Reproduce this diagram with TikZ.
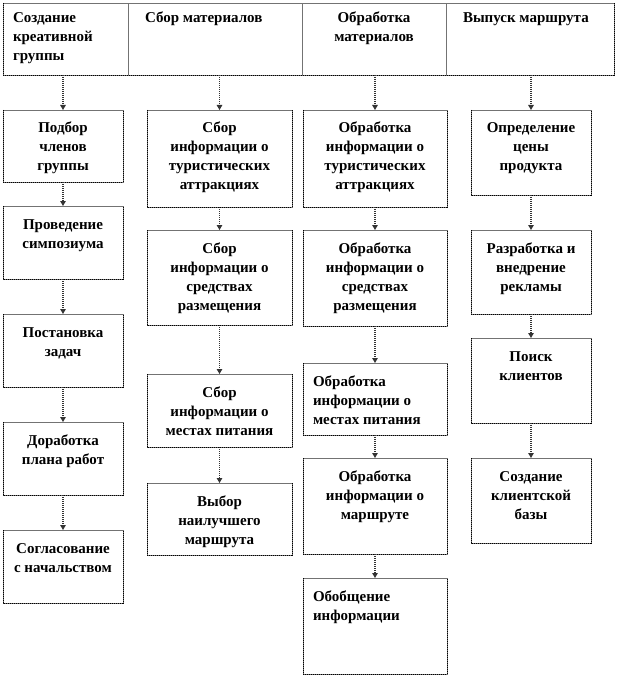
\documentclass[tikz,border=0pt]{standalone}
\usepackage{fontspec}
\setmainfont{Liberation Serif}
\usetikzlibrary{arrows.meta}
\newcommand\tb[4]{\parbox[c][#2pt][t]{#1pt}{#3\rule{0pt}{23pt}#4}}
\newcommand\hb[4]{\parbox[c][#2pt][t]{#1pt}{#3\rule{0pt}{20pt}#4}}
\newcommand\lft[1]{\raggedright\leftskip=#1pt }
\tikzset{
  x=1pt, y=-1pt,
  box/.style={draw=black!55, line width=0.7pt, anchor=north west, inner sep=0pt, outer sep=0pt,
    font=\fontsize{15}{19}\selectfont\bfseries},
  dotedge/.style={draw=black, line width=0.9pt, dash pattern=on 1pt off 1pt},
  arr/.style={draw=black!80, line width=1.1pt, dash pattern=on 1pt off 1pt,
    -{Triangle[width=5.5pt,length=5pt]}, shorten >=0pt},
}
\begin{document}
\begin{tikzpicture}
\useasboundingbox (0,0) rectangle (618,687);
% header cells
\node[box] (h1) at (3,3) {\hb{125}{72}{\lft{10}}{Создание\\креативной\\группы}};
\node[box] (h2) at (128,3) {\hb{174}{72}{\lft{17}}{Сбор материалов}};
\node[box] (h3) at (302,3) {\hb{144}{72}{\centering}{Обработка\\материалов}};
\node[box] (h4) at (446,3) {\hb{168}{72}{\lft{17}}{Выпуск маршрута}};
\draw[dotedge] (h1.north west) -- (h1.south west) -- (h4.south east) -- (h4.north east);
% column 1
\node[box] (a1) at (3,110) {\tb{120}{72}{\centering}{Подбор\\членов\\группы}};
\node[box] (a2) at (3,206) {\tb{120}{73}{\centering}{Проведение\\симпозиума}};
\node[box] (a3) at (3,314) {\tb{120}{73}{\centering}{Постановка\\задач}};
\node[box] (a4) at (3,422) {\tb{120}{73}{\centering}{Доработка\\плана работ}};
\node[box] (a5) at (3,530) {\tb{120}{73}{\centering}{Согласование\\с начальством}};
% column 2
\node[box] (b1) at (147,110) {\tb{145}{97}{\centering}{Сбор\\информации о\\туристических\\аттракциях}};
\node[box] (b2) at (147,230) {\tb{145}{95}{\centering}{Сбор\\информации о\\средствах\\размещения}};
\node[box] (b3) at (147,374) {\tb{145}{73}{\centering}{Сбор\\информации о\\местах питания}};
\node[box] (b4) at (147,483) {\tb{145}{72}{\centering}{Выбор\\наилучшего\\маршрута}};
% column 3
\node[box] (c1) at (303,110) {\tb{144}{97}{\centering}{Обработка\\информации о\\туристических\\аттракциях}};
\node[box] (c2) at (303,230) {\tb{144}{96}{\centering}{Обработка\\информации о\\средствах\\размещения}};
\node[box] (c3) at (303,363) {\tb{144}{72}{\lft{10}}{Обработка\\информации о\\местах питания}};
\node[box] (c4) at (303,458) {\tb{144}{96}{\centering}{Обработка\\информации о\\маршруте}};
\node[box] (c5) at (303,578) {\tb{144}{96}{\lft{10}}{Обобщение\\информации}};
% column 4
\node[box] (d1) at (471,110) {\tb{120}{85}{\centering}{Определение\\цены\\продукта}};
\node[box] (d2) at (471,230) {\tb{120}{84}{\centering}{Разработка и\\внедрение\\рекламы}};
\node[box] (d3) at (471,338) {\tb{120}{85}{\centering}{Поиск\\клиентов}};
\node[box] (d4) at (471,458) {\tb{120}{85}{\centering}{Создание\\клиентской\\базы}};
\foreach \n in {a1,a2,a3,a4,a5,b1,b2,b3,b4,c1,c2,c3,c4,c5,d1,d2,d3,d4}
  \draw[dotedge] (\n.north west) -- (\n.south west) -- (\n.south east) -- (\n.north east);
% arrows
\draw[arr] (a1.north |- h1.south) -- (a1.north);
\draw[arr] (b1.north |- h2.south) -- (b1.north);
\draw[arr] (c1.north |- h3.south) -- (c1.north);
\draw[arr] (d1.north |- h4.south) -- (d1.north);
\foreach \u/\v in {a1/a2,a2/a3,a3/a4,a4/a5,b1/b2,b2/b3,b3/b4,c1/c2,c2/c3,c3/c4,c4/c5,d1/d2,d2/d3,d3/d4}
  \draw[arr] (\u.south) -- (\v.north);
\end{tikzpicture}
\end{document}
